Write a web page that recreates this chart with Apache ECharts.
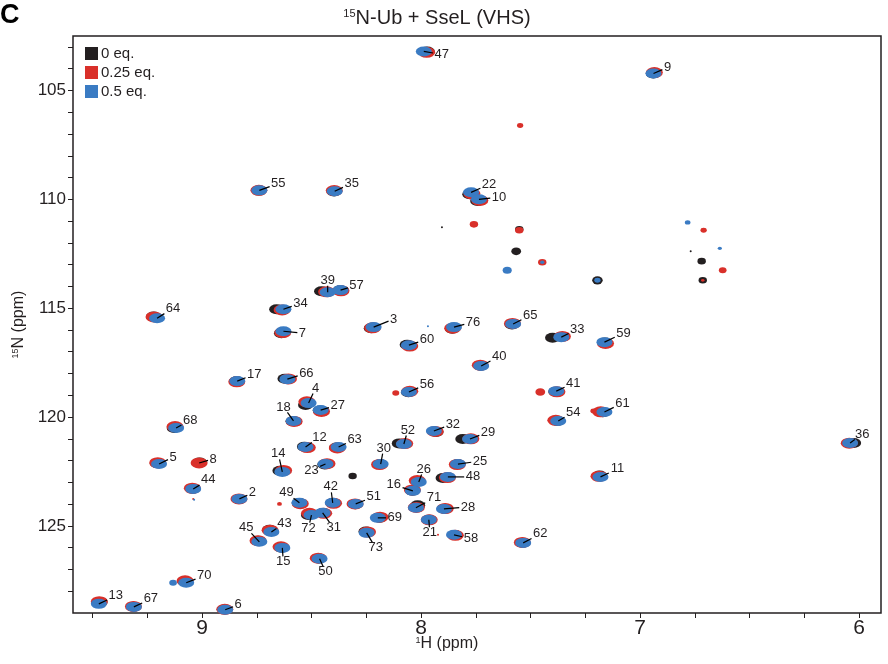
<!DOCTYPE html>
<html>
<head>
<meta charset="utf-8">
<script src="https://cdn.jsdelivr.net/npm/echarts@6/dist/echarts.min.js"></script>
<style>
html, body { margin: 0; padding: 0; background: #fff; }
#chart { width: 888px; height: 664px; }
</style>
</head>
<body>
<div id="chart"></div>
<script>
// assigned residues (ubiquitin numbering)
var residues = [47, 9, 55, 35, 22, 10, 64, 39, 57, 34,
    7, 3, 76, 60, 65, 33, 59, 40, 17, 66,
    56, 41, 4, 27, 18, 54, 61, 68, 36, 12,
    63, 52, 32, 29, 5, 8, 30, 14, 23, 25,
    26, 16, 48, 44, 2, 49, 42, 51, 71, 28,
    72, 31, 69, 21, 58, 62, 11, 73, 50, 45,
    43, 15, 70, 13, 67, 6];

// 1H / 15N shifts (ppm), 0.5 eq. SseL
var h50 = [7.988, 6.939, 8.739, 8.395, 7.772, 7.736, 9.206, 8.427, 8.368, 8.629,
    8.629, 8.217, 7.850, 8.056, 7.580, 7.360, 7.163, 7.726, 8.840, 8.611,
    8.056, 7.383, 8.514, 8.459, 8.583, 7.374, 7.163, 9.119, 6.041, 8.528,
    8.377, 8.079, 7.942, 7.777, 9.197, null, 8.185, 8.634, 8.437, 7.832,
    8.011, 8.038, 7.878, 9.041, 8.830, 8.556, 8.404, 8.299, 8.024, 7.896,
    8.501, 8.450, 8.198, 7.965, 7.850, 7.534, 7.181, 8.249, 8.464, 8.739,
    8.684, 8.634, 9.073, 9.472, 9.312, 8.895];
var n50 = [103.21, 104.22, 109.59, 109.63, 109.68, 110.00, 115.46, 114.27, 114.17, 115.05,
    116.06, 115.87, 115.87, 116.70, 115.73, 116.33, 116.56, 117.66, 118.35, 118.26,
    118.85, 118.81, 119.36, 119.68, 120.18, 120.18, 119.77, 120.50, 121.19, 121.38,
    121.38, 121.24, 120.64, 121.01, 122.16, null, 122.16, 122.52, 122.16, 122.16,
    122.98, 123.39, 122.75, 123.30, 123.76, 123.94, 123.94, 123.99, 124.17, 124.22,
    124.50, 124.40, 124.63, 124.72, 125.41, 125.78, 122.75, 125.32, 126.51, 125.73,
    125.28, 126.01, 127.61, 128.58, 128.72, 128.85];

// 0.25 eq.
var h25 = [7.975, 6.935, 8.741, 8.397, 7.768, 7.732, 9.220, 8.432, 8.366, 8.635,
    8.632, 8.222, 7.856, 8.052, 7.583, 7.355, 7.158, 7.730, 8.842, 8.606,
    8.052, 7.380, 8.522, 8.455, 8.580, 7.385, 7.180, 9.124, 6.045, 8.520,
    8.383, 8.075, 7.936, 7.773, 9.203, 9.014, 8.190, 8.628, 8.430, 7.835,
    8.018, 8.040, 7.880, 9.045, 8.832, 8.552, 8.400, 8.302, 8.022, 7.890,
    8.510, 8.445, 8.188, 7.963, 7.844, 7.538, 7.188, 8.245, 8.470, 8.745,
    8.690, 8.640, 9.078, 9.470, 9.314, 8.897];
var n25 = [103.25, 104.18, 109.59, 109.60, 109.75, 110.05, 115.40, 114.25, 114.20, 115.08,
    116.12, 115.90, 115.92, 116.74, 115.70, 116.30, 116.62, 117.62, 118.38, 118.25,
    118.82, 118.84, 119.30, 119.74, 120.20, 120.15, 119.76, 120.44, 121.20, 121.40,
    121.42, 121.22, 120.66, 121.00, 122.10, 122.11, 122.18, 122.45, 122.14, 122.18,
    122.92, 123.35, 122.78, 123.27, 123.76, 123.98, 123.96, 123.99, 124.15, 124.20,
    124.42, 124.42, 124.60, 124.72, 125.43, 125.76, 122.72, 125.28, 126.48, 125.68,
    125.20, 125.96, 127.52, 128.48, 128.70, 128.83];

// 0 eq. (free ubiquitin)
var h0 = [7.972, 6.940, 8.741, 8.398, 7.778, 7.742, 9.222, 8.455, 8.370, 8.660,
    8.638, 8.228, 7.858, 8.064, 7.585, 7.400, 7.160, 7.728, 8.843, 8.622,
    8.058, 7.385, 8.528, 8.461, 8.585, 7.378, 7.170, 9.128, 6.025, 8.533,
    8.386, 8.100, 7.932, 7.810, 9.205, 9.012, 8.187, 8.645, 8.440, 7.833,
    8.015, 8.040, 7.900, 9.043, 8.831, 8.557, 8.402, 8.300, 8.016, 7.893,
    8.515, 8.448, 8.190, 7.964, 7.846, 7.536, 7.185, 8.252, 8.468, 8.744,
    8.692, 8.637, 9.080, 9.466, 9.313, 8.896];
var n0 = [103.21, 104.22, 109.60, 109.64, 109.77, 110.08, 115.38, 114.22, 114.18, 115.05,
    116.15, 115.92, 115.94, 116.68, 115.75, 116.36, 116.58, 117.64, 118.36, 118.24,
    118.86, 118.84, 119.45, 119.70, 120.19, 120.18, 119.78, 120.50, 121.19, 121.36,
    121.40, 121.21, 120.69, 121.01, 122.12, 122.09, 122.17, 122.47, 122.18, 122.17,
    122.95, 123.38, 122.80, 123.29, 123.77, 123.95, 123.95, 124.00, 124.05, 124.21,
    124.50, 124.41, 124.62, 124.72, 125.42, 125.77, 122.69, 125.26, 126.50, 125.68,
    125.18, 126.00, 127.53, 128.50, 128.71, 128.84];

// unassigned peaks: 1H, 15N, relative intensity
var free0H = [7.905, 7.552, 7.566, 7.195, 6.769, 6.719, 6.714, 8.313];
var free0N = [111.28, 111.38, 112.39, 113.72, 112.39, 112.84, 113.72, 122.71];
var free0I = [0.12, 0.6, 0.7, 0.75, 0.12, 0.6, 0.6, 0.6];
var free25H = [7.548, 7.759, 7.552, 7.447, 6.710, 6.623, 6.714, 8.116, 7.456, 7.213, 8.647, 9.041, 7.923];
var free25N = [106.61, 111.15, 111.42, 112.89, 111.42, 113.26, 113.72, 118.90, 118.85, 119.72, 123.99, 123.76, 125.41];
var free25I = [0.45, 0.6, 0.6, 0.6, 0.45, 0.55, 0.25, 0.5, 0.7, 0.45, 0.35, 0.15, 0.12];
var free50H = [7.607, 7.447, 7.195, 6.783, 6.636, 7.969, 9.133, 9.037];
var free50N = [113.26, 112.89, 113.72, 111.06, 112.25, 115.83, 127.61, 123.80];
var free50I = [0.65, 0.3, 0.45, 0.4, 0.3, 0.12, 0.55, 0.15];

// axis ticks
var xTicks = [6, 6.25, 6.5, 6.75, 7, 7.25, 7.5, 7.75, 8, 8.25, 8.5, 8.75, 9, 9.25, 9.5];
var xLabels = [6, 7, 8, 9];
var yTicks = [103, 104, 105, 106, 107, 108, 109, 110, 111, 112, 113, 114, 115, 116, 117,
    118, 119, 120, 121, 122, 123, 124, 125, 126, 127, 128];
var yLabels = [105, 110, 115, 120, 125];

// label placement (pixel offset from the peak)
var labelDx = [18, 14, 19, 17, 18, 20, 16, 0, 16, 17,
    19, 20, 19, 18, 17, 16, 19, 18, 17, 19,
    18, 17, 7, 17, -10, 15, 18, 14, 12, 14,
    16, 4, 19, 18, 14, 14, 3, -4, -14, 22,
    5, -19, 25, 15, 13, -13, -2, 18, 18, 24,
    -3, 11, 17, 1, 17, 17, 17, 9, 6, -13,
    13, 1, 18, 17, 17, 13];
var labelDy = [3, -6, -7, -8, -8, -2, -10, -12, -5, -6,
    2, -8, -5, -6, -9, -8, -9, -10, -7, -6,
    -8, -8, -15, -5, -14, -9, -9, -8, -9, -10,
    -8, -14, -7, -7, -7, -4, -16, -18, 6, -3,
    -13, -6, 0, -9, -6, -10, -16, -7, -10, -2,
    13, 15, 0, 13, 4, -9, -8, 15, 13, -14,
    -9, 14, -7, -8, -8, -5];

var FONT = '"Liberation Sans", Arial, Helvetica, sans-serif';
var colors = { c0: '#231f20', c25: '#d9302a', c50: '#3a7bc3' };

function peakData(hs, ns, fh, fn, fi) {
    var out = [];
    for (var i = 0; i < hs.length; i++) {
        if (hs[i] == null) continue;
        out.push([hs[i], ns[i], 1]);
    }
    for (var j = 0; j < fh.length; j++) {
        out.push([fh[j], fn[j], fi[j]]);
    }
    return out;
}

function sizeFn(w, h) {
    return function (v) {
        if (v[2] >= 1) return [w, h];
        return [Math.max(2, 14 * v[2]), Math.max(2, 11 * v[2])];
    };
}

var labelData = residues.map(function (r, i) {
    var h = h50[i] != null ? h50[i] : h25[i];
    var n = n50[i] != null ? n50[i] : n25[i];
    return [h, n, i];
});

function renderLabel(params, api) {
    var i = api.value(2);
    var p = api.coord([api.value(0), api.value(1)]);
    var txt = String(residues[i]);
    var lx = p[0] + labelDx[i];
    var ly = p[1] + labelDy[i];
    var hw = txt.length * 3.6 + 1.5, hh = 5.5;
    var vx = p[0] - lx, vy = p[1] - ly;
    var t = Math.min(vx ? hw / Math.abs(vx) : Infinity, vy ? hh / Math.abs(vy) : Infinity);
    var kids = [];
    if (t < 1) {
        kids.push({
            type: 'line',
            shape: { x1: p[0], y1: p[1], x2: lx + vx * t, y2: ly + vy * t },
            style: { stroke: '#000', lineWidth: 1.2 }
        });
    }
    kids.push({
        type: 'text',
        x: lx, y: ly,
        style: { text: txt, fill: '#231f20', font: '13px ' + FONT, align: 'center', verticalAlign: 'middle' }
    });
    return { type: 'group', children: kids };
}

var supRich = function (size, base) {
    return {
        sup: { fontSize: size, fontFamily: FONT, fontWeight: 'normal', color: '#231f20', verticalAlign: 'top', lineHeight: base },
        t: { fontSize: base, fontFamily: FONT, fontWeight: 'normal', color: '#231f20', lineHeight: base }
    };
};

var chart = echarts.init(document.getElementById('chart'));
var option = {
    animation: false,
    backgroundColor: '#fff',
    title: [
        { text: 'C', left: 0, top: 2, padding: 0,
          textStyle: { fontSize: 27, fontWeight: 'bold', color: '#000', fontFamily: FONT } },
        { text: '{sup|15}{t|N-Ub + SseL (VHS)}', left: 437, top: 8, padding: 0, textAlign: 'center',
          textStyle: { fontWeight: 'normal', rich: supRich(11, 20) } },
        { text: '{sup|1}{t|H (ppm)}', left: 447, top: 636, padding: 0, textAlign: 'center',
          textStyle: { fontWeight: 'normal', rich: supRich(9, 16) } }
    ],
    legend: {
        data: ['0 eq.', '0.25 eq.', '0.5 eq.'],
        orient: 'vertical',
        left: 85, top: 46,
        icon: 'rect',
        itemWidth: 13, itemHeight: 13, itemGap: 4,
        padding: 0,
        selectedMode: false,
        textStyle: { fontSize: 15, color: '#231f20', fontFamily: FONT, padding: [0, 0, 0, -2], lineHeight: 14 }
    },
    grid: { left: 73, right: 7, top: 36, bottom: 51, show: true, borderColor: '#231f20', borderWidth: 1.5 },
    xAxis: {
        type: 'value', inverse: true, min: 5.9, max: 9.59,
        axisLine: { show: false },
        splitLine: { show: false },
        axisTick: { show: true, customValues: xTicks, length: 5, lineStyle: { color: '#231f20', width: 1 } },
        axisLabel: { customValues: xLabels, fontSize: 21, color: '#231f20', fontFamily: FONT, margin: 5 }
    },
    yAxis: {
        type: 'value', inverse: true, min: 102.5, max: 129,
        name: '{sup|15}{t|N (ppm)}',
        nameLocation: 'middle', nameGap: 37, nameRotate: 90,
        nameTextStyle: { fontWeight: 'normal', rich: supRich(9, 16) },
        axisLine: { show: false },
        splitLine: { show: false },
        axisTick: { show: true, customValues: yTicks, length: 5, lineStyle: { color: '#231f20', width: 1 } },
        axisLabel: { customValues: yLabels, fontSize: 17, color: '#231f20', fontFamily: FONT, margin: 7 }
    },
    series: [
        { name: '0 eq.', type: 'scatter', silent: true, z: 2,
          data: peakData(h0, n0, free0H, free0N, free0I),
          symbolSize: sizeFn(15, 10),
          itemStyle: { color: colors.c0, opacity: 1 } },
        { name: '0.25 eq.', type: 'scatter', silent: true, z: 3,
          data: peakData(h25, n25, free25H, free25N, free25I),
          symbolSize: sizeFn(17, 11),
          itemStyle: { color: colors.c25, opacity: 1 } },
        { name: '0.5 eq.', type: 'scatter', silent: true, z: 4,
          data: peakData(h50, n50, free50H, free50N, free50I),
          symbolSize: sizeFn(16, 10),
          itemStyle: { color: colors.c50, opacity: 1 } },
        { type: 'custom', silent: true, z: 10, clip: false,
          data: labelData,
          encode: { x: 0, y: 1 },
          renderItem: renderLabel }
    ]
};
chart.setOption(option);
</script>
</body>
</html>
